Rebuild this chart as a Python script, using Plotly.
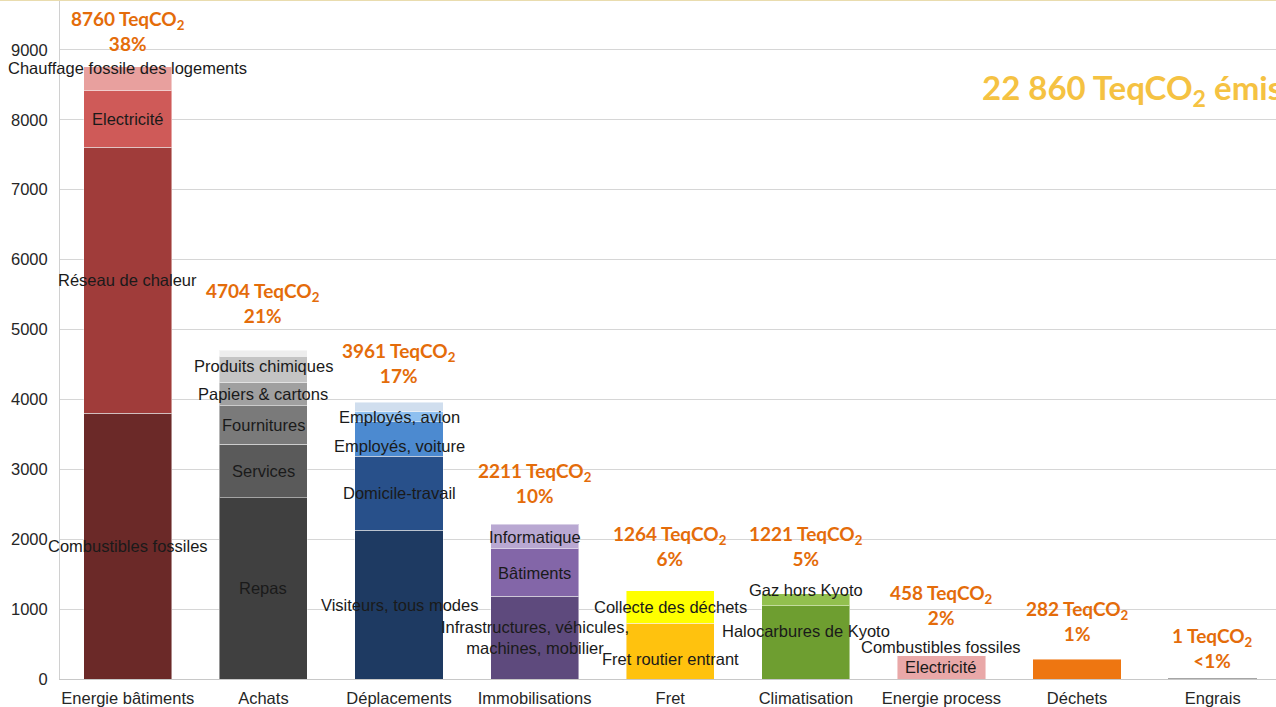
import plotly.graph_objects as go

# ---------------- data ----------------
categories = ["Energie bâtiments", "Achats", "Déplacements", "Immobilisations", "Fret",
              "Climatisation", "Energie process", "Déchets", "Engrais"]
totals = [8760, 4704, 3961, 2211, 1264, 1221, 458, 282, 1]
total_labels = ["8760", "4704", "3961", "2211", "1264", "1221", "458", "282", "1"]
pct_labels = ["38%", "21%", "17%", "10%", "6%", "5%", "2%", "1%", "<1%"]

seg_energie_bat_names = ["Combustibles fossiles", "Réseau de chaleur", "Electricité",
                         "Chauffage fossile des logements"]
seg_energie_bat_vals = [3800, 3810, 815, 335]
seg_achats_names = ["Repas", "Services", "Fournitures", "Papiers & cartons", "Produits chimiques", ""]
seg_achats_vals = [2590, 772, 544, 340, 370, 88]
seg_depl_names = ["Visiteurs, tous modes", "Domicile-travail", "Employés, voiture", "Employés, avion", ""]
seg_depl_vals = [2130, 1060, 490, 140, 141]
seg_immo_names = ["Infrastructures, véhicules,<br>machines, mobilier", "Bâtiments", "Informatique"]
seg_immo_vals = [1187, 673, 351]
seg_fret_names = ["Fret routier entrant", "Collecte des déchets"]
seg_fret_vals = [801, 463]
seg_clim_names = ["Halocarbures de Kyoto", "Gaz hors Kyoto"]
seg_clim_vals = [1045, 176]
seg_process_names = ["Electricité", "Combustibles fossiles"]
seg_process_vals = [335, 123]
seg_dechets_names = [""]
seg_dechets_vals = [282]
seg_engrais_names = [""]
seg_engrais_vals = [1]

title_text = "22 860 TeqCO<sub>2</sub> émises"

# ---------------- styles ----------------
seg_colors = [
    ["#6B2928", "#A03C3A", "#CF5A58", "#E8A09E"],
    ["#404040", "#5A5A5A", "#7A7A7A", "#A0A0A0", "#C4C4C4", "#EDEDED"],
    ["#1E3A62", "#28508A", "#4C8AD0", "#8EC0F0", "#D0DEEE"],
    ["#5E4A7D", "#8366A8", "#B9A8D2"],
    ["#FFC20E", "#FFFF00"],
    ["#6E9E30", "#92C04E"],
    ["#E9A8A8", "#FFFFFF"],
    ["#EE7611"],
    ["#B0B0B0"],
]
label_lift = [10, 21, 13, 15, 19, 22, 16, 12, 5]          # px above bar top
label_nudge = {(0, 3): 10, (1, 4): 3, (2, 2): -7, (4, 0): -8,
               (5, 0): 11, (5, 1): 10, (6, 1): 4}          # px shift of segment labels

segments = [
    (seg_energie_bat_names, seg_energie_bat_vals),
    (seg_achats_names, seg_achats_vals),
    (seg_depl_names, seg_depl_vals),
    (seg_immo_names, seg_immo_vals),
    (seg_fret_names, seg_fret_vals),
    (seg_clim_names, seg_clim_vals),
    (seg_process_names, seg_process_vals),
    (seg_dechets_names, seg_dechets_vals),
    (seg_engrais_names, seg_engrais_vals),
]

TXT = dict(family="Liberation Sans, Arial", size=16.5, color="#1A1A1A")
fig = go.Figure()
annotations = []
ORANGE = "#E46C0A"
for ci, (names, vals) in enumerate(segments):
    base = 0
    for si, (nm, v) in enumerate(zip(names, vals)):
        col = seg_colors[ci][si]
        line_col = "rgba(255,255,255,0.45)"
        line_w = 1
        if col == "#FFFFFF":
            line_col = "rgba(255,255,255,0)"
            line_w = 0
        if ci == 8:
            line_col = "#A6A6A6"
            line_w = 1
        fig.add_trace(go.Bar(
            x=[ci], y=[v], width=0.65, marker=dict(color=col, line=dict(color=line_col, width=line_w)),
            name=nm.replace("<br>", " ") or "Autres", showlegend=False, hoverinfo="skip"))
        if nm:
            annotations.append(dict(
                x=ci, y=base + v / 2, xref="x", yref="y", text=nm, showarrow=False,
                yshift=label_nudge.get((ci, si), 0), font=TXT))
        base += v

for ci, (tot, tl, pl) in enumerate(zip(totals, total_labels, pct_labels)):
    annotations.append(dict(
        x=ci, y=tot, xref="x", yref="y", yanchor="bottom", showarrow=False,
        yshift=label_lift[ci],
        text=f"{tl} TeqCO<sub>2</sub><br>{pl}",
        font=dict(family="Lato, Open Sans", size=19, color=ORANGE, weight="bold")))

# title, placed in pixel terms relative to the plot area (l=60, width 1216, height 679)
annotations.append(dict(
    x=(980 - 60) / 1216, y=(679 - 90) / 679, xref="paper", yref="paper",
    xanchor="left", yanchor="middle",
    text=title_text, showarrow=False, align="left",
    font=dict(family="Lato, Open Sans", size=33, color="#F5C242", weight="bold")))

fig.update_layout(
    barmode="stack",
    width=1276, height=707,
    margin=dict(l=60, r=0, t=0, b=28),
    paper_bgcolor="white", plot_bgcolor="white",
    annotations=annotations,
    shapes=[dict(type="line", xref="paper", yref="paper", x0=-0.06, x1=1, y0=1, y1=1,
                 line=dict(color="#E9DCAE", width=2))],
    xaxis=dict(
        tickmode="array", tickvals=list(range(len(categories))), ticktext=categories,
        range=[-0.5, 8.467], showgrid=False, showline=True, linecolor="#C8C8C8", linewidth=1,
        ticks="", ticklabelstandoff=4,
        tickfont=dict(family="Liberation Sans, Arial", size=16.5, color="#262626"), fixedrange=True),
    yaxis=dict(
        range=[0, 9714], tickmode="array", tickvals=list(range(0, 10000, 1000)),
        showgrid=True, gridcolor="#D6D6D6", gridwidth=1,
        showline=True, linecolor="#D0D0D0", ticks="", ticklabelstandoff=8, zeroline=False,
        tickfont=dict(family="Liberation Sans, Arial", size=16.5, color="#262626")),
    font=dict(family="Liberation Sans, Arial"),
)

fig.write_html("out.html")
